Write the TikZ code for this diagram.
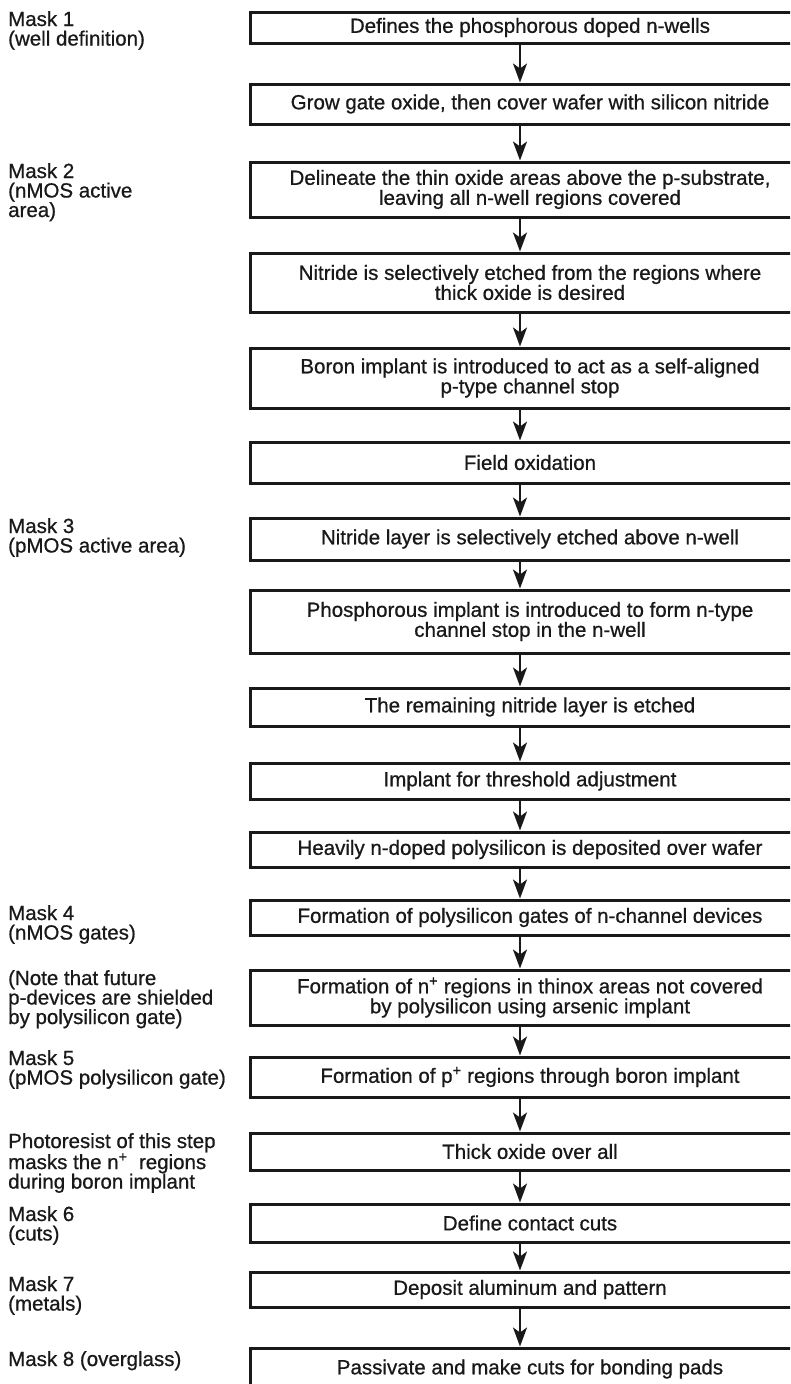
\documentclass[tikz,border=0pt]{standalone}
\usepackage{fontspec}
\setmainfont{Liberation Sans}[FakeBold=0.7]
\usetikzlibrary{arrows.meta}
\newcommand\boxfont{\fontsize{20.5}{20}\selectfont}
\newcommand\lblfont{\fontsize{20.5}{19.5}\selectfont}
\newcommand\lbltext[1]{\parbox[t]{240pt}{\raggedright #1}}
\tikzset{
  stepbox/.style={draw=black!90, line width=3pt, minimum width=560pt, inner sep=0pt, align=center, font=\boxfont, text=black!90},
  lbl/.style={anchor=base west, inner sep=0pt, font=\lblfont, text=black!90},
  arr/.style={draw=black!90, line width=2.2pt, -{Stealth[length=19pt,width=14pt,inset=5pt]}},
}
\begin{document}
\begin{tikzpicture}[x=1pt,y=-1pt]
\clip (0,0) rectangle (790,1384);
\fill[white] (0,0) rectangle (790,1384);
% process boxes
\node[stepbox, minimum height=31pt] (b1) at (530,27.5) {Defines the phosphorous doped n-wells};
\node[stepbox, minimum height=40pt] (b2) at (530,104) {Grow gate oxide, then cover wafer with silicon nitride};
\node[stepbox, minimum height=55pt] (b3) at (530,189.5) {Delineate the thin oxide areas above the p-substrate,\\leaving all n-well regions covered};
\node[stepbox, minimum height=59pt] (b4) at (530,282.5) {Nitride is selectively etched from the regions where\\thick oxide is desired};
\node[stepbox, minimum height=60pt] (b5) at (530,378) {Boron implant is introduced to act as a self-aligned\\p-type channel stop};
\node[stepbox, minimum height=41pt] (b6) at (530,462.5) {Field oxidation};
\node[stepbox, minimum height=42pt] (b7) at (530,539) {Nitride layer is selectively etched above n-well};
\node[stepbox, minimum height=63pt] (b8) at (530,621.5) {Phosphorous implant is introduced to form n-type\\channel stop in the n-well};
\node[stepbox, minimum height=38pt] (b9) at (530,707) {The remaining nitride layer is etched};
\node[stepbox, minimum height=36pt] (b10) at (530,781) {Implant for threshold adjustment};
\node[stepbox, minimum height=35pt] (b11) at (530,849.5) {Heavily n-doped polysilicon is deposited over wafer};
\node[stepbox, minimum height=35pt] (b12) at (530,917.5) {Formation of polysilicon gates of n-channel devices};
\node[stepbox, minimum height=55pt] (b13) at (530,997.5) {Formation of n\textsuperscript{+} regions in thinox areas not covered\\by polysilicon using arsenic implant};
\node[stepbox, minimum height=40pt] (b14) at (530,1077) {Formation of p\textsuperscript{+} regions through boron implant};
\node[stepbox, minimum height=37pt] (b15) at (530,1151.5) {Thick oxide over all};
\node[stepbox, minimum height=38pt] (b16) at (530,1223) {Define contact cuts};
\node[stepbox, minimum height=35pt] (b17) at (530,1289.5) {Deposit aluminum and pattern};
\node[stepbox, minimum height=42pt] (b18) at (530,1369) {Passivate and make cuts for bonding pads};
% connectors
\foreach \a/\b in {b1/b2,b2/b3,b3/b4,b4/b5,b5/b6,b6/b7,b7/b8,b8/b9,b9/b10,b10/b11,b11/b12,b12/b13,b13/b14,b14/b15,b15/b16,b16/b17,b17/b18}
  \draw[arr] ([xshift=-10pt]\a.south) -- ([xshift=-10pt]\b.north);
% left labels
\node[lbl] (m1) at (8,26) {\lbltext{Mask 1\\(well definition)}};
\node[lbl] (m2) at (8,178) {\lbltext{Mask 2\\(nMOS active\\area)}};
\node[lbl] (m3) at (8,533) {\lbltext{Mask 3\\(pMOS active area)}};
\node[lbl] (m4) at (8,920) {\lbltext{Mask 4\\(nMOS gates)}};
\node[lbl] (nt) at (8,985) {\lbltext{(Note that future\\p-devices are shielded\\by polysilicon gate)}};
\node[lbl] (m5) at (8,1065) {\lbltext{Mask 5\\(pMOS polysilicon gate)}};
\node[lbl] (pr) at (8,1148) {\lbltext{Photoresist of this step\\masks the n\textsuperscript{+}\ \ regions\\during boron implant}};
\node[lbl] (m6) at (8,1221) {\lbltext{Mask 6\\(cuts)}};
\node[lbl] (m7) at (8,1291) {\lbltext{Mask 7\\(metals)}};
\node[lbl] (m8) at (8,1366) {\lbltext{Mask 8 (overglass)}};
\end{tikzpicture}
\end{document}
